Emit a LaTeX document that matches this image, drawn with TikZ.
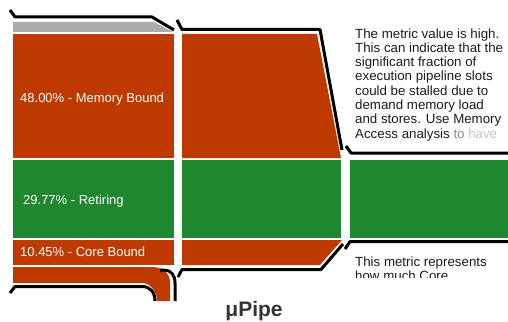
\documentclass[tikz,border=0pt]{standalone}
\usepackage{fontspec}
\setmainfont{Liberation Sans}
\usepackage{xcolor}
\usepackage{tikz}
\definecolor{upipered}{HTML}{BE3A00}
\definecolor{upipegreen}{HTML}{1F872E}
\definecolor{upipegrey}{HTML}{ABABAB}
\definecolor{upipeink}{HTML}{1C1C1C}
\definecolor{upipetitle}{HTML}{333333}
\definecolor{upipefadeA}{HTML}{8A8A8A}
\definecolor{upipefadeB}{HTML}{C4C4C4}

\begin{document}
\begin{tikzpicture}[x=1pt,y=-1pt,
  wall/.style={draw=black,line width=3pt,line join=round},
  slab/.style={font=\fontsize{13}{15}\selectfont,text=white,anchor=base west,inner sep=0},
  note/.style={font=\fontsize{13.3}{14.3}\selectfont,text=upipeink,anchor=base west,inner sep=0}]
  \useasboundingbox (0,0) rectangle (508,321);
  \fill[upipegrey] (13,22) -- (154,22) -- (173,32) -- (13,32) -- cycle;
  \fill[upipered] (13,34) rectangle (174,158);
  \fill[upipegreen] (13,160) rectangle (174,238);
  \fill[upipered] (13,240) rectangle (174,265);
  \fill[upipered] (13,267) -- (152,267) .. controls (162,267) and (170,273) .. (170,282)
    -- (170,301) -- (157,301) .. controls (157,291) and (150,283) .. (142,283) -- (13,283) -- cycle;
  \fill[upipered] (182,34) -- (317,34) -- (341,158) -- (182,158) -- cycle;
  \fill[upipegreen] (182,160) rectangle (341,238);
  \fill[upipered] (182,240) -- (342,240) -- (320,265) -- (182,265) -- cycle;
  \fill[upipegreen] (350,160) rectangle (508,238);
  \draw[wall] (10,10) -- (15,17) -- (152,17) -- (174,30);
  \draw[wall] (177,20) -- (182,29.5) -- (320,29.5) -- (342,150);
  \draw[wall] (346,146) -- (351,153) -- (508,153);
  \draw[wall] (10,293) -- (15,286.5) -- (142,286.5) .. controls (150,286.5) and (155,292) .. (155,301);
  \draw[wall] (160,270) -- (164,270) .. controls (171,270) and (175,275) .. (175,283) -- (175,301);
  \draw[wall] (178,277) -- (182,269.5) -- (321,269.5) -- (343,244);
  \draw[wall] (345,249) -- (350,241.5) -- (508,241.5);
  \node[slab] (memory) at (20,102) {48.00\% - Memory Bound};
  \node[slab] (retiring) at (23,204) {29.77\% - Retiring};
  \node[slab] (core) at (20,256) {10.45\% - Core Bound};
  \foreach [count=\i from 0] \line in {%
    The metric value is high., This can indicate that the, significant fraction of,
    execution pipeline slots, could be stalled due to, demand memory load,
    {and stores. Use Memory},
    {Access analysis \textcolor{upipefadeA}{to} \textcolor{upipefadeB}{have}}}{
      \node[note] (hint\i) at (355,38+14.3*\i) {\line};
  }
  \begin{scope}
    \clip (350,250) rectangle (508,277);
    \node[note] (corehint0) at (355,266) {This metric represents};
    \node[note] (corehint1) at (355,280.3) {how much Core};
  \end{scope}
  \node[font=\fontsize{21}{25}\selectfont\bfseries,text=upipetitle,anchor=base] (title) at (254,316) {μPipe};
\end{tikzpicture}
\end{document}
